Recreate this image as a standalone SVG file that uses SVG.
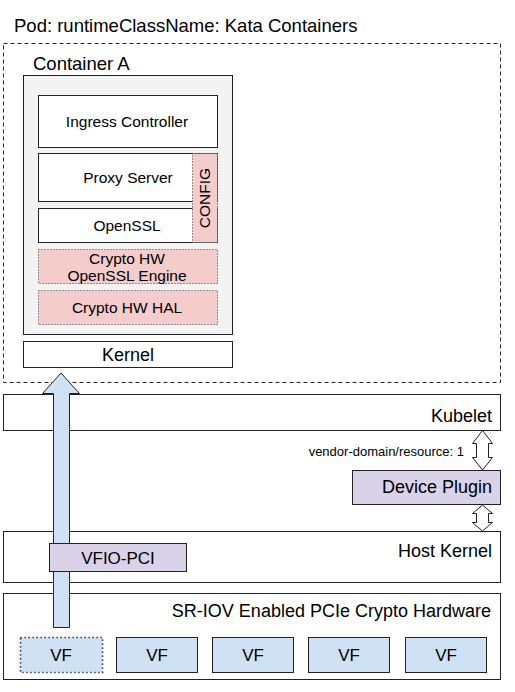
<svg xmlns="http://www.w3.org/2000/svg" width="515" height="692" viewBox="0 0 515 692">
<style>
text{font-family:"Liberation Sans",Arial,sans-serif;fill:#000}
.box{fill:#fff;stroke:#222;stroke-width:1}
.pink{fill:#f4cccc;stroke:#333;stroke-width:1;stroke-dasharray:1 2}
.purple{fill:#d9d2e9;stroke:#222;stroke-width:1}
.vf{fill:#cfe2f3;stroke:#222;stroke-width:1}
.arrow{fill:#cfe2f3;stroke:#222;stroke-width:1}
.darrow{fill:#fff;stroke:#222;stroke-width:1}
.m{font-size:15.5px;text-anchor:middle}
.l{font-size:18.5px}
.r{font-size:18px;text-anchor:end}
</style>
<rect width="515" height="692" fill="#fff"/>
<g id="pod">
<rect x="3.5" y="43.5" width="497" height="339" fill="none" stroke="#222" stroke-dasharray="4 3"/>
<text x="14" y="32" class="l">Pod: runtimeClassName: Kata Containers</text>
</g>
<g id="containerA">
<text x="33" y="70" class="l">Container A</text>
<rect x="23.5" y="75.5" width="209" height="259" fill="#f3f3f3" stroke="#222"/>
</g>
<g id="ingress">
<rect class="box" x="38.5" y="95.5" width="179" height="52"/>
<text x="127" y="127" class="m">Ingress Controller</text>
</g>
<g id="proxy">
<rect class="box" x="38.5" y="153.5" width="179" height="48"/>
<text x="128" y="183" class="m">Proxy Server</text>
</g>
<g id="openssl">
<rect class="box" x="38.5" y="208.5" width="179" height="34"/>
<text x="127" y="231" class="m">OpenSSL</text>
</g>
<g id="config">
<rect class="pink" x="192.5" y="153.5" width="25" height="89"/>
<text x="210" y="198" class="m" transform="rotate(-90 210 198)">CONFIG</text>
</g>
<g id="engine">
<rect class="pink" x="38.5" y="249.5" width="179" height="34"/>
<text x="127" y="264" class="m">Crypto HW</text>
<text x="127" y="281" class="m">OpenSSL Engine</text>
</g>
<g id="hal">
<rect class="pink" x="38.5" y="290.5" width="179" height="34"/>
<text x="127" y="313" class="m">Crypto HW HAL</text>
</g>
<g id="kernel">
<rect class="box" x="23.5" y="341.5" width="209" height="26"/>
<text x="128" y="361" class="m" style="font-size:18px">Kernel</text>
</g>
<g id="kubelet">
<rect class="box" x="3.5" y="394.5" width="497" height="36"/>
<text x="492" y="422" class="r">Kubelet</text>
</g>
<g id="hostkernel">
<rect class="box" x="3.5" y="531.5" width="497" height="51"/>
<text x="492" y="557" class="r">Host Kernel</text>
</g>
<g id="sriov">
<rect class="box" x="3.5" y="593.5" width="497" height="86"/>
<text x="491" y="617" class="r">SR-IOV Enabled PCIe Crypto Hardware</text>
</g>
<g id="vf1">
<rect x="20.5" y="637.5" width="82" height="35" fill="#cfe2f3" stroke="#111" stroke-width="1.6" stroke-dasharray="1.2 2.8"/>
<text x="61" y="661" class="m" style="font-size:17px">VF</text>
</g>
<g id="vf2">
<rect class="vf" x="116.5" y="637.5" width="81" height="35"/>
<text x="157" y="661" class="m" style="font-size:17px">VF</text>
</g>
<g id="vf3">
<rect class="vf" x="212.5" y="637.5" width="81" height="35"/>
<text x="253" y="661" class="m" style="font-size:17px">VF</text>
</g>
<g id="vf4">
<rect class="vf" x="308.5" y="637.5" width="81" height="35"/>
<text x="349" y="661" class="m" style="font-size:17px">VF</text>
</g>
<g id="vf5">
<rect class="vf" x="405.5" y="637.5" width="81" height="35"/>
<text x="446" y="661" class="m" style="font-size:17px">VF</text>
</g>
<g id="connectors">
<path class="arrow" d="M61,373 L79.5,393.5 L69.5,393.5 L69.5,627.5 L53.5,627.5 L53.5,393.5 L42.5,393.5 Z"/>
<path class="darrow" d="M482.5,430.5 L492.5,443.5 L488.5,443.5 L488.5,457.5 L492.5,457.5 L482.5,470 L472.5,457.5 L476.5,457.5 L476.5,443.5 L472.5,443.5 Z"/>
<path class="darrow" d="M482.5,505 L492.5,513.5 L488.5,513.5 L488.5,522.5 L492.5,522.5 L482.5,531 L472.5,522.5 L476.5,522.5 L476.5,513.5 L472.5,513.5 Z"/>
<text x="464" y="456" style="font-size:13px;text-anchor:end">vendor-domain/resource: 1</text>
</g>
<g id="deviceplugin">
<rect class="purple" x="352.5" y="470.5" width="148" height="34"/>
<text x="492" y="493" class="r">Device Plugin</text>
</g>
<g id="vfiopci">
<rect class="purple" x="49.5" y="543.5" width="137" height="28"/>
<text x="118" y="564" class="m" style="font-size:17px">VFIO-PCI</text>
</g>
</svg>
